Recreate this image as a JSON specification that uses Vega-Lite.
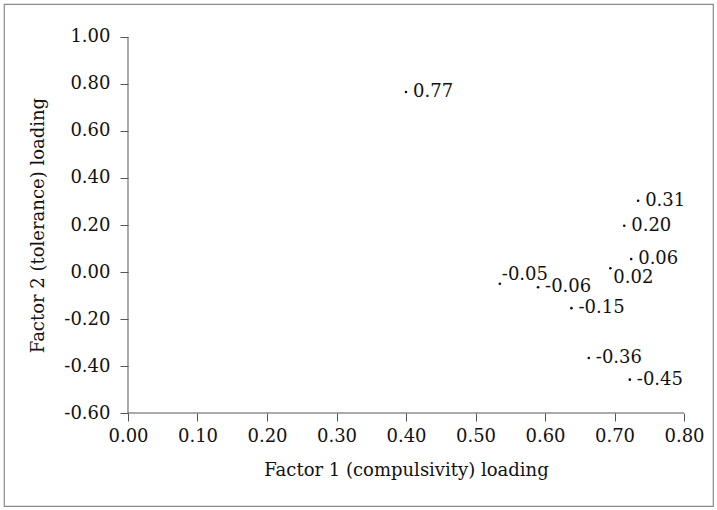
{
  "$schema": "https://vega.github.io/schema/vega-lite/v6.json",
  "width": 709,
  "height": 502,
  "padding": 4,
  "autosize": {"type": "none"},
  "background": "white",
  "config": {
    "view": {"stroke": "#8a8a8a", "strokeWidth": 1.2},
    "font": "DejaVu Serif",
    "axis": {
      "labelFont": "DejaVu Serif",
      "titleFont": "DejaVu Serif",
      "labelFontSize": 18,
      "titleFontSize": 18,
      "titleFontWeight": "normal",
      "labelColor": "#111",
      "titleColor": "#111",
      "tickColor": "#555",
      "grid": false,
      "domain": false
    }
  },
  "datasets": {
    "pts": [
      {"f1": 0.400, "f2": 0.766, "label": "0.77"},
      {"f1": 0.734, "f2": 0.303, "label": "0.31"},
      {"f1": 0.714, "f2": 0.197, "label": "0.20"},
      {"f1": 0.724, "f2": 0.055, "label": "0.06"},
      {"f1": 0.694, "f2": 0.016, "label": "0.02"},
      {"f1": 0.535, "f2": -0.050, "label": "-0.05"},
      {"f1": 0.590, "f2": -0.065, "label": "-0.06"},
      {"f1": 0.638, "f2": -0.154, "label": "-0.15"},
      {"f1": 0.663, "f2": -0.366, "label": "-0.36"},
      {"f1": 0.722, "f2": -0.458, "label": "-0.45"}
    ],
    "axes": [
      {"f1": 0, "f1b": 0.8, "f2": -0.6, "f2b": -0.6},
      {"f1": 0, "f1b": 0, "f2": -0.6, "f2b": 1.0}
    ]
  },
  "layer": [
    {
      "data": {"name": "axes"},
      "mark": {"type": "rule", "color": "#555", "strokeWidth": 1},
      "encoding": {
        "x": {
          "field": "f1", "type": "quantitative",
          "scale": {"domain": [-0.1784, 0.8417], "nice": false, "zero": false},
          "axis": {
            "orient": "bottom", "offset": -93,
            "values": [0, 0.1, 0.2, 0.3, 0.4, 0.5, 0.6, 0.7, 0.8],
            "labelExpr": "format(datum.value, '.2f')",
            "tickSize": 8, "labelPadding": 6,
            "title": "Factor 1 (compulsivity) loading",
            "titleX": 402, "titleY": 57, "titleBaseline": "middle", "titleAnchor": null, "titleAlign": "center"
          }
        },
        "x2": {"field": "f1b"},
        "y": {
          "field": "f2", "type": "quantitative",
          "scale": {"domain": [-0.9957, 1.1404], "nice": false, "zero": false},
          "axis": {
            "orient": "left", "offset": -124,
            "values": [-0.6, -0.4, -0.2, 0, 0.2, 0.4, 0.6, 0.8, 1.0],
            "labelExpr": "replace(format(datum.value, '.2f'), '\u2212', '-')",
            "tickSize": 8, "labelPadding": 10,
            "title": "Factor 2 (tolerance) loading",
            "titleX": -90, "titleY": 221, "titleBaseline": "middle", "titleAngle": -90, "titleAlign": "center"
          }
        },
        "y2": {"field": "f2b"}
      }
    },
    {
      "data": {"name": "pts"},
      "mark": {"type": "circle", "color": "#111", "size": 7, "opacity": 1},
      "encoding": {
        "x": {"field": "f1", "type": "quantitative"},
        "y": {"field": "f2", "type": "quantitative"}
      }
    },
    {
      "data": {"name": "pts"},
      "transform": [{"filter": "datum.label !== '0.02' && datum.label !== '-0.05'"}],
      "mark": {"type": "text", "align": "left", "baseline": "middle", "dx": 7, "fontSize": 18, "color": "#111"},
      "encoding": {
        "x": {"field": "f1", "type": "quantitative"},
        "y": {"field": "f2", "type": "quantitative"},
        "text": {"field": "label"}
      }
    },
    {
      "data": {"name": "pts"},
      "transform": [{"filter": "datum.label === '0.02'"}],
      "mark": {"type": "text", "align": "left", "baseline": "middle", "dx": 3, "dy": 10, "fontSize": 18, "color": "#111"},
      "encoding": {
        "x": {"field": "f1", "type": "quantitative"},
        "y": {"field": "f2", "type": "quantitative"},
        "text": {"field": "label"}
      }
    },
    {
      "data": {"name": "pts"},
      "transform": [{"filter": "datum.label === '-0.05'"}],
      "mark": {"type": "text", "align": "left", "baseline": "middle", "dx": 2, "dy": -9, "fontSize": 18, "color": "#111"},
      "encoding": {
        "x": {"field": "f1", "type": "quantitative"},
        "y": {"field": "f2", "type": "quantitative"},
        "text": {"field": "label"}
      }
    }
  ]
}
